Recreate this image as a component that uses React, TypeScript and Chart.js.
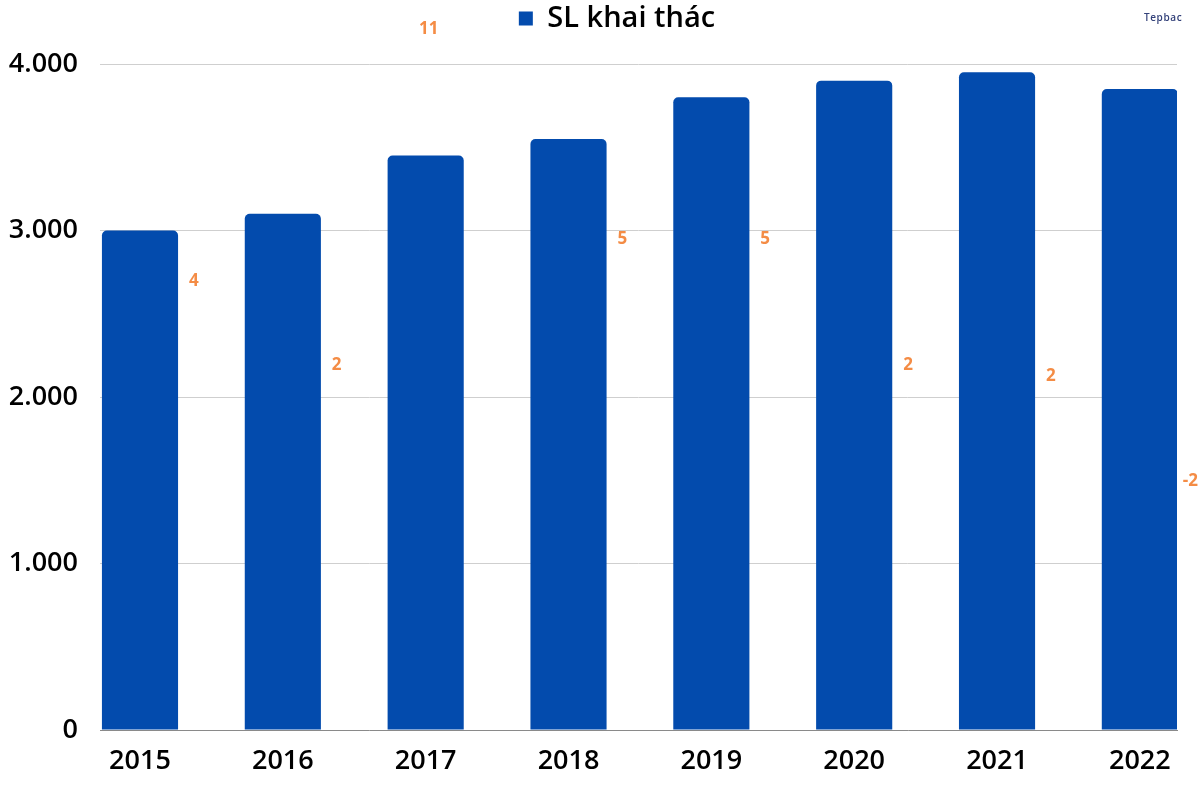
import React, { useEffect, useRef } from 'react';
import { Chart, registerables } from 'chart.js';

Chart.register(...registerables);

// ---- data ----
const years = ['2015', '2016', '2017', '2018', '2019', '2020', '2021', '2022'];
const output = [3000, 3100, 3450, 3550, 3800, 3900, 3950, 3850];
// growth labels as printed, and their (estimated) vertical values on the hidden secondary axis
const growthLabels = ['4', '2', '11', '5', '5', '2', '2', '-2'];
const growthValues = [3.8, 1.4, 11, 5, 5, 1.4, 1.1, -1.9];
const yTicks = [0, 1000, 2000, 3000, 4000];

const BLUE = '#034BAD';
const ORANGE = '#F48C45';
const FONT = '"Open Sans", "Noto Sans", sans-serif';
const LEGEND_SHIFT = 28.5;

const fmt = (v: number) => String(Math.round(v)).replace(/\B(?=(\d{3})+(?!\d))/g, '.');

const legendMargin = {
  id: 'legendMargin',
  beforeInit(chart: any) {
    const orig = chart.legend.fit;
    chart.legend.fit = function () {
      orig.bind(chart.legend)();
      this.height += 21;
    };
  },
  afterLayout(chart: any) {
    if (chart.legend) {
      chart.legend.left += LEGEND_SHIFT;
      chart.legend.right += LEGEND_SHIFT;
    }
  },
};

const growthLabelPlugin = {
  id: 'growthLabelPlugin',
  afterDatasetsDraw(chart: any) {
    const meta = chart.getDatasetMeta(1);
    const ctx = chart.ctx;
    const top = chart.chartArea.top;
    ctx.save();
    ctx.font = `700 17px ${FONT}`;
    ctx.fillStyle = ORANGE;
    ctx.textBaseline = 'middle';
    ctx.textAlign = 'left';
    meta.data.forEach((pt: any, i: number) => {
      const txt = growthLabels[i];
      const w = ctx.measureText(txt).width;
      let x: number;
      if (pt.y < top) {
        // clamped label above the plot: centred on its point
        x = pt.x + 3 - w / 2;
      } else {
        x = Math.min(pt.x + 49, chart.width - w - 2);
      }
      ctx.fillText(txt, x, pt.y);
    });
    ctx.restore();
  },
};

export default function App() {
  const ref = useRef<HTMLCanvasElement>(null);
  useEffect(() => {
    const chart = new Chart(ref.current as HTMLCanvasElement, {
      type: 'bar',
      data: {
        datasets: [
          {
            type: 'bar',
            label: 'SL khai thác',
            data: years.map((_, i) => ({ x: i, y: output[i] })),
            backgroundColor: BLUE,
            borderRadius: { topLeft: 5, topRight: 5, bottomLeft: 0, bottomRight: 0 },
            borderSkipped: 'start',
            barPercentage: 0.533,
            categoryPercentage: 1,
            xAxisID: 'x',
            yAxisID: 'y',
          } as any,
          {
            type: 'line',
            label: 'Tăng trưởng',
            data: years.map((_, i) => ({ x: i, y: growthValues[i] })),
            showLine: false,
            pointRadius: 0,
            pointHoverRadius: 0,
            xAxisID: 'x',
            yAxisID: 'y1',
            clip: false,
          } as any,
        ],
      },
      options: {
        animation: false,
        responsive: true,
        maintainAspectRatio: false,
        layout: { padding: { top: 0, right: 23, left: 0, bottom: 0 } },
        plugins: {
          legend: {
            display: true,
            position: 'top',
            labels: {
              filter: (item: any) => item.datasetIndex === 0,
              boxWidth: 14,
              boxHeight: 14,
              padding: 4,
              color: '#000',
              font: { family: FONT, size: 29, weight: 600 as any },
            },
          },
          tooltip: { enabled: false },
        },
        scales: {
          x: {
            type: 'linear',
            offset: false,
            min: -0.28,
            max: 7.26,
            afterBuildTicks: (axis: any) => {
              axis.ticks = years.map((_, i) => ({ value: i }));
            },
            afterFit: (axis: any) => {
              axis.height = 70;
            },
            grid: { display: false, drawTicks: false, offset: false },
            border: { display: true, color: '#8a8a8a', width: 1 },
            ticks: {
              padding: 15,
              color: '#000',
              font: { family: FONT, size: 27, weight: 600 as any },
              callback: (v: any) => years[v] ?? '',
              maxRotation: 0,
              autoSkip: false,
            },
          },
          y: {
            type: 'linear',
            position: 'left',
            min: 0,
            max: 4000,
            afterBuildTicks: (axis: any) => {
              axis.ticks = yTicks.map((v) => ({ value: v }));
            },
            afterFit: (axis: any) => {
              axis.width = 100;
            },
            grid: { color: '#cfcfcf', lineWidth: 1, drawTicks: false },
            border: { display: false },
            ticks: {
              padding: 22,
              color: '#000',
              font: { family: FONT, size: 27, weight: 600 as any },
              callback: (v: any) => fmt(Number(v)),
            },
          },
          y1: {
            type: 'linear',
            display: false,
            min: -9,
            max: 10,
          },
        },
      },
      plugins: [legendMargin, growthLabelPlugin],
    });
    return () => chart.destroy();
  }, []);

  return (
    <div style={{ position: 'absolute', left: 0, top: 0, width: 1200, height: 800, background: '#fff' }}>
      <canvas ref={ref} />
      <div
        style={{
          position: 'absolute',
          left: 1144,
          top: 10,
          fontFamily: FONT,
          fontSize: 10,
          fontWeight: 600,
          color: '#34427a',
          letterSpacing: 0.6,
        }}
      >
        Tepbac
      </div>
    </div>
  );
}
